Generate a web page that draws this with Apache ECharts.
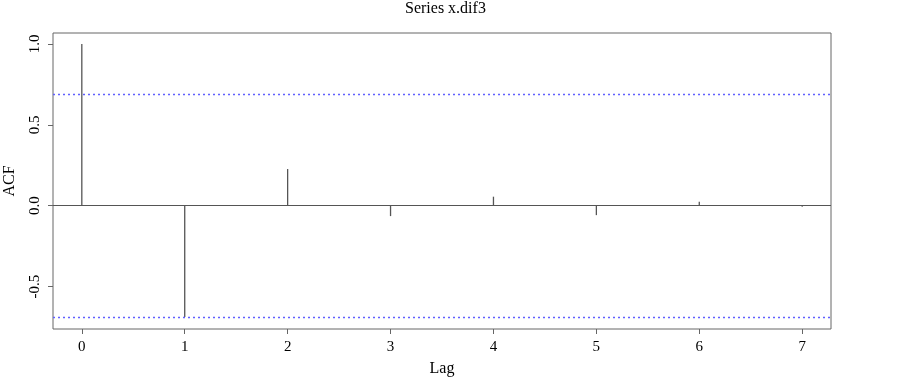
<!DOCTYPE html>
<html><head><meta charset="utf-8">
<script src="https://cdn.jsdelivr.net/npm/echarts@6/dist/echarts.min.js"></script>
<style>html,body{margin:0;padding:0;background:#fff}#c{width:903px;height:379px}</style>
</head><body><div id="c"></div>
<script>
const lags = [0, 1, 2, 3, 4, 5, 6, 7];
const acfValues = [1.0, -0.688, 0.227, -0.064, 0.056, -0.058, 0.025, -0.006];
const ciBound = 0.693;
const xTickValues = [0, 1, 2, 3, 4, 5, 6, 7];
const yTickValues = [-0.5, 0, 0.5, 1.0];
const titleText = 'Series x.dif3';

const serif = 'Liberation Serif';
const chart = echarts.init(document.getElementById('c'), null, {renderer: 'canvas'});
chart.setOption({
  animation: false,
  title: {text: titleText, left: 400, top: -4,
    textStyle: {fontFamily: serif, fontSize: 16, fontWeight: 'normal', color: '#000'}},
  grid: {left: 53, right: 72, top: 33, bottom: 50, show: true, borderColor: '#666', borderWidth: 1,
    containLabel: false, outerBoundsMode: 'none'},
  xAxis: {type: 'value', min: -0.28, max: 7.28,
    name: 'Lag', nameLocation: 'middle', nameGap: 32,
    nameTextStyle: {fontFamily: serif, fontSize: 16, color: '#000'},
    axisLine: {show: false, onZero: false},
    axisTick: {show: true, length: 5, customValues: xTickValues, lineStyle: {color: '#666'}},
    axisLabel: {customValues: xTickValues, fontFamily: serif, fontSize: 15, color: '#000', margin: 11},
    splitLine: {show: false}},
  yAxis: {type: 'value', min: -0.762, max: 1.068,
    name: 'ACF', nameLocation: 'middle', nameGap: 35, nameRotate: 90,
    nameTextStyle: {fontFamily: serif, fontSize: 16, color: '#000'},
    axisLine: {show: false, onZero: false},
    axisTick: {show: true, length: 5, customValues: yTickValues, lineStyle: {color: '#666'}},
    axisLabel: {customValues: yTickValues, rotate: 90, fontFamily: serif, fontSize: 15, color: '#000', margin: 10,
      formatter: v => v.toFixed(1)},
    splitLine: {show: false}},
  series: [{
    type: 'custom',
    data: lags.map((l, i) => [l, acfValues[i]]),
    renderItem: function (params, api) {
      const p0 = api.coord([api.value(0), 0]);
      const p1 = api.coord([api.value(0), api.value(1)]);
      return {type: 'line', shape: {x1: p0[0], y1: p0[1], x2: p1[0], y2: p1[1]},
        style: {stroke: '#555', lineWidth: 1.3}};
    },
    markLine: {
      silent: true, symbol: 'none', label: {show: false},
      data: [
        {yAxis: 0, lineStyle: {color: '#555', width: 1.2, type: 'solid'}},
        {yAxis: ciBound, lineStyle: {color: '#6060ff', width: 1.3, type: [2, 3]}},
        {yAxis: -ciBound, lineStyle: {color: '#6060ff', width: 1.3, type: [2, 3]}}
      ]
    }
  }]
});
</script></body></html>
